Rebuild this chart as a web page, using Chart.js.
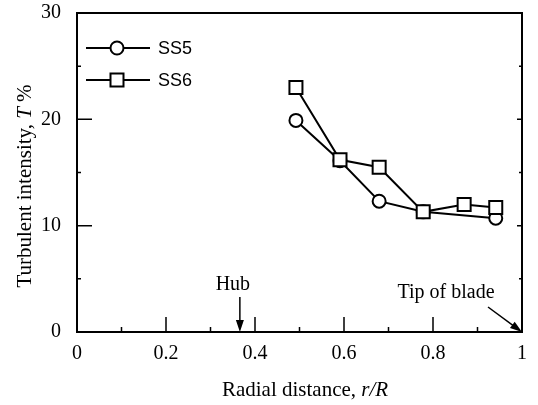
<!DOCTYPE html>
<html>
<head>
<meta charset="utf-8">
<script src="https://cdn.jsdelivr.net/npm/chart.js@4/dist/chart.umd.min.js"></script>
<style>
  html, body { margin: 0; padding: 0; background: #fff; }
  #wrap { width: 538px; height: 405px; }
</style>
</head>
<body>
<div id="wrap"><canvas id="c" width="538" height="405"></canvas></div>
<script>
// radial distance r/R and turbulent intensity T %
const ss5R = [0.492, 0.591, 0.679, 0.778, 0.941];
const ss5T = [19.9, 16.1, 12.3, 11.3, 10.7];
const ss6R = [0.492, 0.591, 0.679, 0.778, 0.870, 0.941];
const ss6T = [23.0, 16.2, 15.5, 11.3, 12.0, 11.7];

const xTicks = [0, 0.2, 0.4, 0.6, 0.8, 1];
const yTicks = [0, 10, 20, 30];
const xMinor = [0.1, 0.3, 0.5, 0.7, 0.9];
const yMinor = [5, 15, 25];

const serif = "'Liberation Serif', 'DejaVu Serif', serif";
const sans = "'Liberation Sans', Arial, sans-serif";

function toPoints(xs, ys) {
  return xs.map((x, i) => ({ x: x, y: ys[i] }));
}

// draw text pieces in a row, some italic
function drawParts(ctx, parts, x, y, size) {
  let cx = x;
  parts.forEach(p => {
    ctx.font = (p.italic ? 'italic ' : '') + size + 'px ' + serif;
    ctx.fillText(p.t, cx, y);
    cx += ctx.measureText(p.t).width;
  });
}
function partsWidth(ctx, parts, size) {
  let w = 0;
  parts.forEach(p => {
    ctx.font = (p.italic ? 'italic ' : '') + size + 'px ' + serif;
    w += ctx.measureText(p.t).width;
  });
  return w;
}

function arrow(ctx, x1, y1, x2, y2) {
  const a = Math.atan2(y2 - y1, x2 - x1);
  const len = 12, half = 4;
  ctx.beginPath();
  ctx.moveTo(x1, y1);
  ctx.lineTo(x2 - Math.cos(a) * len * 0.8, y2 - Math.sin(a) * len * 0.8);
  ctx.stroke();
  ctx.beginPath();
  ctx.moveTo(x2, y2);
  ctx.lineTo(x2 - Math.cos(a) * len - Math.sin(a) * half, y2 - Math.sin(a) * len + Math.cos(a) * half);
  ctx.lineTo(x2 - Math.cos(a) * len + Math.sin(a) * half, y2 - Math.sin(a) * len - Math.cos(a) * half);
  ctx.closePath();
  ctx.fill();
}

const framePlugin = {
  id: 'frame',
  afterDraw(chart) {
    const ctx = chart.ctx;
    const a = chart.chartArea;
    const xs = chart.scales.x, ys = chart.scales.y;
    ctx.save();
    ctx.strokeStyle = '#000';
    ctx.fillStyle = '#000';
    ctx.lineWidth = 2;
    ctx.strokeRect(a.left, a.top, a.right - a.left, a.bottom - a.top);

    // inward ticks
    ctx.lineWidth = 1.5;
    ctx.beginPath();
    xTicks.forEach(v => {
      if (v <= 0 || v >= 1) return;
      const px = xs.getPixelForValue(v);
      ctx.moveTo(px, a.bottom); ctx.lineTo(px, a.bottom - 15);
    });
    xMinor.forEach(v => {
      const px = xs.getPixelForValue(v);
      ctx.moveTo(px, a.bottom); ctx.lineTo(px, a.bottom - 5);
    });
    yTicks.forEach(v => {
      if (v <= 0 || v >= 30) return;
      const py = ys.getPixelForValue(v);
      ctx.moveTo(a.left, py); ctx.lineTo(a.left + 15, py);
      ctx.moveTo(a.right, py); ctx.lineTo(a.right - 5, py);
    });
    yMinor.forEach(v => {
      const py = ys.getPixelForValue(v);
      ctx.moveTo(a.left, py); ctx.lineTo(a.left + 4, py);
      ctx.moveTo(a.right, py); ctx.lineTo(a.right - 3, py);
    });
    ctx.stroke();

    // legend
    ctx.lineWidth = 2;
    const legend = [
      { label: 'SS5', style: 'circle', y: a.top + 35 },
      { label: 'SS6', style: 'rect', y: a.top + 67 }
    ];
    legend.forEach(l => {
      ctx.strokeStyle = '#000';
      ctx.beginPath();
      ctx.moveTo(a.left + 9, l.y); ctx.lineTo(a.left + 73, l.y);
      ctx.stroke();
      ctx.fillStyle = '#fff';
      ctx.beginPath();
      if (l.style === 'circle') {
        ctx.arc(a.left + 40, l.y, 6.5, 0, Math.PI * 2);
      } else {
        ctx.rect(a.left + 40 - 6.5, l.y - 6.5, 13, 13);
      }
      ctx.fill(); ctx.stroke();
      ctx.fillStyle = '#000';
      ctx.font = '18px ' + sans;
      ctx.textAlign = 'left';
      ctx.textBaseline = 'middle';
      ctx.fillText(l.label, a.left + 81, l.y + 1);
    });

    // annotations
    ctx.lineWidth = 1.5;
    const hubX = xs.getPixelForValue(0.366);
    arrow(ctx, hubX, a.bottom - 35, hubX, a.bottom);
    ctx.font = '20px ' + serif;
    ctx.textAlign = 'center';
    ctx.textBaseline = 'alphabetic';
    ctx.fillText('Hub', hubX - 7, a.bottom - 42);

    const tipX = xs.getPixelForValue(1);
    arrow(ctx, tipX - 34, a.bottom - 25, tipX, a.bottom);
    ctx.fillText('Tip of blade', tipX - 76, a.bottom - 34);

    // axis titles
    ctx.textAlign = 'left';
    const xt = [{ t: 'Radial distance, ' }, { t: 'r/R', italic: true }];
    const xw = partsWidth(ctx, xt, 21);
    drawParts(ctx, xt, 305 - xw / 2, 396, 21);

    const yt = [{ t: 'Turbulent intensity, ' }, { t: 'T', italic: true }, { t: ' %' }];
    const yw = partsWidth(ctx, yt, 21);
    ctx.translate(31, 186);
    ctx.rotate(-Math.PI / 2);
    drawParts(ctx, yt, -yw / 2, 0, 21);
    ctx.restore();
  }
};

new Chart(document.getElementById('c'), {
  type: 'line',
  data: {
    datasets: [
      {
        label: 'SS5',
        data: toPoints(ss5R, ss5T),
        borderColor: '#000',
        borderWidth: 2,
        pointStyle: 'circle',
        pointRadius: 6.5,
        pointBorderWidth: 2,
        pointBackgroundColor: '#fff',
        pointBorderColor: '#000',
        order: 2
      },
      {
        label: 'SS6',
        data: toPoints(ss6R, ss6T),
        borderColor: '#000',
        borderWidth: 2,
        pointStyle: 'rect',
        pointRadius: 9.2,
        pointBorderWidth: 2,
        pointBackgroundColor: '#fff',
        pointBorderColor: '#000',
        order: 1
      }
    ]
  },
  options: {
    responsive: false,
    animation: false,
    layout: { padding: { top: 13, right: 16, left: 0, bottom: 0 } },
    plugins: { legend: { display: false }, tooltip: { enabled: false } },
    scales: {
      x: {
        type: 'linear',
        min: 0, max: 1,
        afterBuildTicks: s => { s.ticks = xTicks.map(v => ({ value: v })); },
        afterFit: s => { s.height = 73; s.paddingLeft = 0; s.paddingRight = 0; },
        grid: { display: false },
        border: { display: false },
        ticks: {
          color: '#000',
          font: { family: serif, size: 20 },
          padding: 2,
          maxRotation: 0,
          callback: v => String(v)
        }
      },
      y: {
        type: 'linear',
        min: 0, max: 30,
        afterBuildTicks: s => { s.ticks = yTicks.map(v => ({ value: v })); },
        afterFit: s => { s.width = 77; s.paddingTop = 0; s.paddingBottom = 0; },
        grid: { display: false },
        border: { display: false },
        ticks: {
          color: '#000',
          font: { family: serif, size: 20 },
          padding: 8,
          callback: v => String(v)
        }
      }
    }
  },
  plugins: [framePlugin]
});
</script>
</body>
</html>
